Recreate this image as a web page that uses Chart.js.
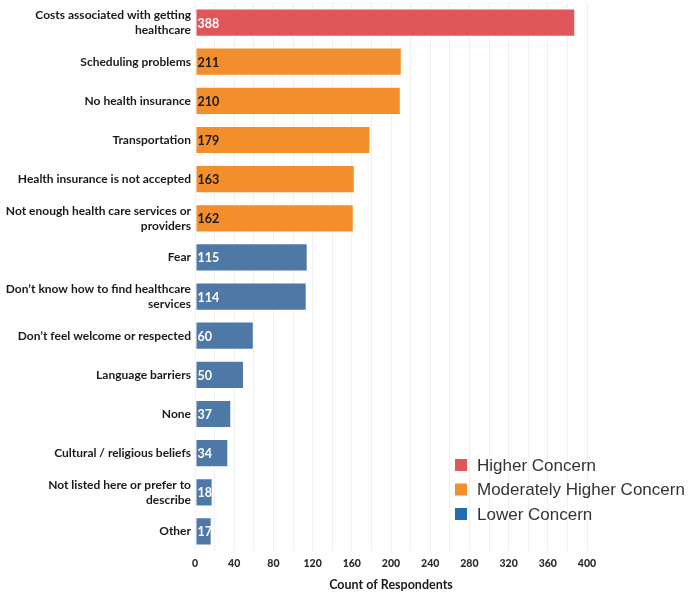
<!DOCTYPE html>
<html>
<head>
<meta charset="utf-8">
<script src="https://cdn.jsdelivr.net/npm/chart.js@4.4.1/dist/chart.umd.min.js"></script>
<style>
  html, body { margin: 0; padding: 0; background: #ffffff; }
  #wrap { width: 696px; height: 592px; position: relative; }
</style>
</head>
<body>
<div id="wrap"><canvas id="chart" width="696" height="592"></canvas></div>
<script>
// Barriers to getting healthcare, by count of respondents
const categories = [
  ["Costs associated with getting", "healthcare"],
  "Scheduling problems",
  "No health insurance",
  "Transportation",
  "Health insurance is not accepted",
  ["Not enough health care services or", "providers"],
  "Fear",
  ["Don\u2019t know how to find healthcare", "services"],
  "Don\u2019t feel welcome or respected",
  "Language barriers",
  "None",
  "Cultural / religious beliefs",
  ["Not listed here or prefer to", "describe"],
  "Other"
];
const respondents = [388, 211, 210, 179, 163, 162, 115, 114, 60, 50, 37, 34, 18, 17];
const concernLevel = [0, 1, 1, 1, 1, 1, 2, 2, 2, 2, 2, 2, 2, 2];

const concernNames = ["Higher Concern", "Moderately Higher Concern", "Lower Concern"];
const barColors = ["#e15759", "#f28e2b", "#4e79a7"];
const legendColors = ["#e15759", "#f28e2b", "#1f6fb0"];
const valueTextColors = ["#ffffff", "#1a1a1a", "#ffffff"];

const xTicks = [0, 40, 80, 120, 160, 200, 240, 280, 320, 360, 400];

// Count printed at the inside-left end of every bar
const valueLabels = {
  id: "valueLabels",
  afterDatasetsDraw(chart) {
    const ctx = chart.ctx;
    const meta = chart.getDatasetMeta(0);
    ctx.save();
    ctx.font = "bold 12.5px Lato, sans-serif";
    ctx.textAlign = "left";
    ctx.textBaseline = "middle";
    meta.data.forEach((bar, i) => {
      ctx.fillStyle = valueTextColors[concernLevel[i]];
      ctx.fillText(String(respondents[i]), bar.base + 2, bar.y + 1);
    });
    ctx.restore();
  }
};

// Concern-level key drawn inside the lower right of the plot
const concernKey = {
  id: "concernKey",
  afterDraw(chart) {
    const ctx = chart.ctx;
    ctx.save();
    ctx.font = "17px 'Liberation Sans', Arial, sans-serif";
    ctx.textBaseline = "middle";
    ctx.textAlign = "left";
    concernNames.forEach((name, i) => {
      const y = 465 + i * 24.5;
      ctx.fillStyle = legendColors[i];
      ctx.fillRect(455, y - 6, 12, 12);
      ctx.fillStyle = "#333333";
      ctx.fillText(name, 477, y + 1);
    });
    ctx.restore();
  }
};

new Chart(document.getElementById("chart"), {
  type: "bar",
  data: {
    labels: categories,
    datasets: [{
      label: "Count of Respondents",
      data: respondents,
      backgroundColor: concernLevel.map(c => barColors[c]),
      borderColor: "rgba(255,255,255,0.45)",
      borderWidth: 1,
      borderSkipped: false,
      barPercentage: 0.72,
      categoryPercentage: 1.0
    }]
  },
  options: {
    indexAxis: "y",
    responsive: false,
    animation: false,
    layout: { padding: { top: 3, right: 109, bottom: 0, left: 0 } },
    plugins: {
      legend: { display: false },
      tooltip: { enabled: false }
    },
    scales: {
      x: {
        min: 0,
        max: 400,
        afterBuildTicks(scale) {
          const t = [];
          for (let v = 0; v <= 400; v += 20) t.push({ value: v });
          scale.ticks = t;
        },
        afterFit(scale) { scale.height = 41; scale.paddingLeft = 0; scale.paddingRight = 0; },
        grid: { color: "#f0f0f0", lineWidth: 1, drawTicks: false },
        border: { display: false },
        ticks: {
          padding: 6,
          autoSkip: false,
          maxRotation: 0,
          color: "#2a2a2a",
          font: { family: "Lato, sans-serif", size: 10.5, weight: "900" },
          callback: (v) => (xTicks.includes(v) ? String(v) : "")
        },
        title: {
          display: true,
          text: "Count of Respondents",
          color: "#1a1a1a",
          padding: { top: 6, bottom: 0 },
          font: { family: "Lato, sans-serif", size: 12.5, weight: "bold" }
        }
      },
      y: {
        afterFit(scale) { scale.width = 195; scale.paddingTop = 0; scale.paddingBottom = 0; },
        grid: { display: false, drawTicks: false },
        border: { display: false },
        ticks: {
          padding: 4,
          autoSkip: false,
          color: "#1a1a1a",
          font: { family: "Lato, sans-serif", size: 12, weight: "bold", lineHeight: 1.25 }
        }
      }
    }
  },
  plugins: [valueLabels, concernKey]
});
</script>
</body>
</html>
